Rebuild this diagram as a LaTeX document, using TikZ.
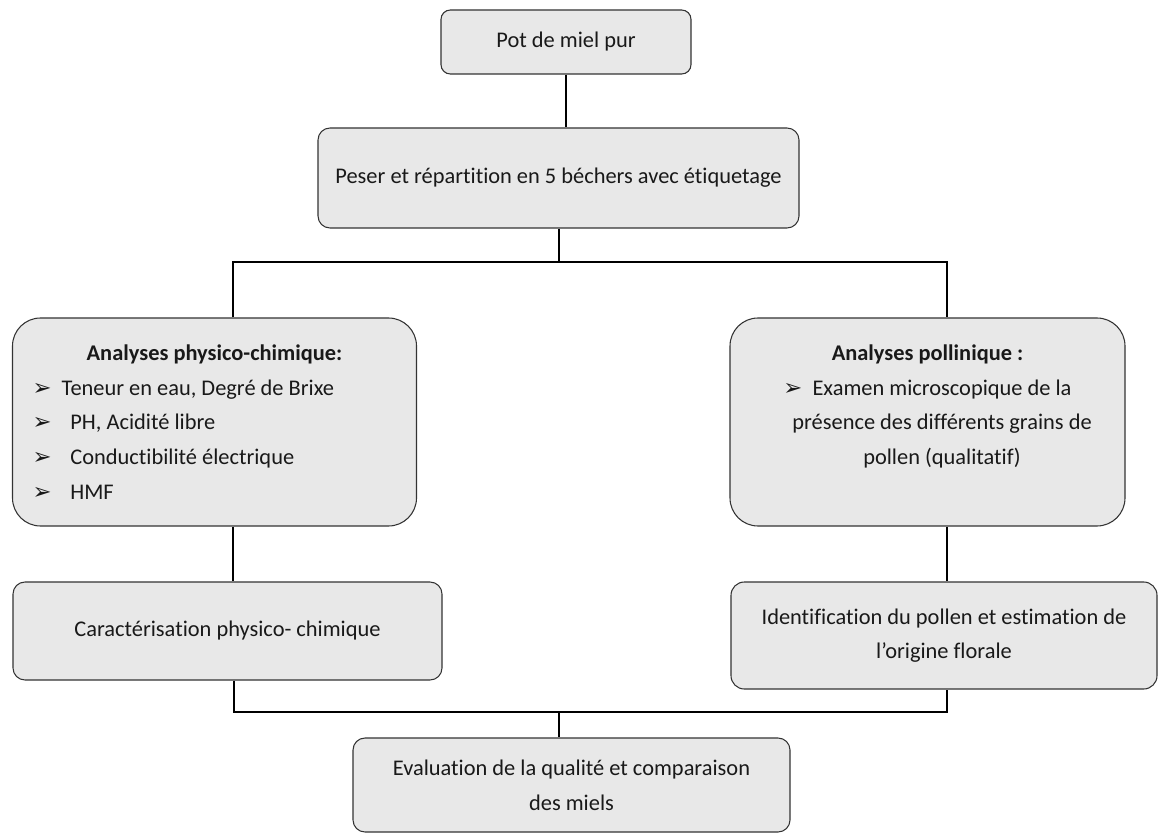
\documentclass[tikz,border=0pt]{standalone}
\usepackage{fontspec}
\setmainfont{Carlito}[Ligatures=NoCommon]
\newfontfamily\symfont{DejaVu Sans}
\usepackage{tikz}
\usetikzlibrary{calc}
\newcommand{\puce}{{\symfont\fontsize{17}{17}\selectfont ➢}\hspace{0.45em}}

\begin{document}
\begin{tikzpicture}[x=0.75pt,y=-0.75pt,
	box/.style={draw=black!80, fill=black!9, line width=0.8pt, rounded corners=#1, align=center, inner sep=0pt, text=black!90, font=\fontsize{16.8}{26}\selectfont\frenchspacing},
	box/.default=9pt,
	link/.style={line width=1.5pt}]
					\useasboundingbox (0,0) rectangle (1160,834);
					\node[box=7pt, minimum width=187.5pt, minimum height=48pt] (pot) at (566,42) {Pot de miel pur};
					\node[box, minimum width=360.75pt, minimum height=75pt] (peser) at (558.5,178) {Peser et répartition en 5 béchers avec étiquetage};
					\node[box=21pt, minimum width=303pt, minimum height=156pt, align=left] (physico) at (214.5,422) {\makebox[273pt]{\textbf{Analyses physico-chimique:}}\\
						\puce Teneur en eau, Degré de Brixe\\
						\puce\, PH, Acidité libre\\
						\puce\, Conductibilité électrique\\
						\puce\, HMF};
					\node[box=21pt, minimum width=296.25pt, minimum height=156pt] (pollen) at (927.5,422) {\textbf{Analyses pollinique :}\\\puce Examen microscopique de la\\\hspace*{1.3em}présence des différents grains de\\\hspace*{1.3em}pollen (qualitatif)\\\mbox{}};
					\node[box, minimum width=321.75pt, minimum height=73.5pt] (carac) at (227.5,631) {Caractérisation physico- chimique};
					\node[box=10pt, minimum width=319.5pt, minimum height=80.25pt] (ident) at (944,635.5) {Identification du pollen et estimation de\\l’origine florale};
					\node[box, minimum width=327.75pt, minimum height=70.5pt] (eval) at (571.5,785) {Evaluation de la qualité et comparaison\\des miels};
					\coordinate (hg) at (233,262);
					\coordinate (hd) at (947,262);
					\coordinate (bg) at (234,712);
					\coordinate (bd) at (947,712);
					\coordinate (bm) at (559,712);
					\draw[link] (pot.south) -- (pot.south |- peser.north);
					\draw[link] (peser.south) -- (peser.south |- hg);
					\draw[link] (physico.north -| hg) -- (hg) -- (hd) -- (pollen.north -| hd);
					\draw[link] (physico.south -| hg) -- (carac.north -| hg);
					\draw[link] (pollen.south -| hd) -- (ident.north -| hd);
					\draw[link] (carac.south -| bg) -- (bg) -- (bd) -- (ident.south -| bd);
					\draw[link] (bm) -- (bm |- eval.north);
					\end{tikzpicture}
\end{document}
